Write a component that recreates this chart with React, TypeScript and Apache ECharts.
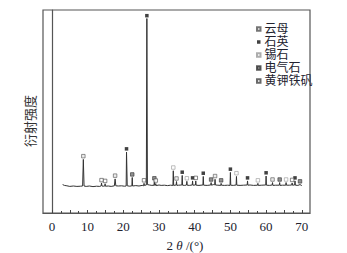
import React, { useEffect, useRef } from "react";
import * as echarts from "echarts";

// 2θ (°) vs diffraction intensity (arbitrary units, 0–1000)
const profile: [number, number][] = [
  [3.0, 140], [3.5, 136], [4.2, 134], [5.0, 131], [6.0, 133], [7.0, 131], [8.0, 132], [8.6, 133],
  [8.8, 264], [9.0, 133], [9.6, 131], [10.5, 133], [11.5, 130], [12.5, 132], [13.4, 131], [13.8, 134],
  [13.9, 148], [14.0, 133], [14.5, 132], [14.8, 133], [14.9, 144], [15.0, 132], [15.8, 133], [16.6, 131],
  [17.5, 134], [17.7, 168], [17.9, 134], [18.6, 133], [19.5, 134], [20.3, 132], [20.8, 133], [20.9, 300],
  [21.1, 134], [21.8, 132], [22.4, 134], [22.5, 175], [22.6, 133], [23.5, 135], [24.4, 133], [25.3, 136],
  [25.7, 134], [25.8, 146], [25.9, 136], [26.45, 138], [26.6, 958], [26.75, 140], [27.3, 138], [28.0, 136],
  [28.6, 137], [28.7, 156], [28.8, 136], [29.0, 137], [29.1, 145], [29.2, 135], [30.0, 138], [30.6, 136],
  [31.5, 137], [32.4, 135], [33.2, 137], [33.9, 136], [34.0, 208], [34.1, 136], [34.5, 137], [34.8, 138],
  [34.9, 155], [35.0, 136], [35.5, 137], [36.4, 138], [36.5, 185], [36.6, 137], [37.2, 136], [37.7, 138],
  [37.8, 156], [37.9, 137], [38.5, 136], [39.3, 138], [39.4, 158], [39.5, 137], [40.2, 138], [40.3, 158],
  [40.4, 137], [41.2, 136], [42.3, 138], [42.4, 180], [42.5, 137], [43.5, 136], [44.5, 138], [44.6, 150],
  [44.7, 137], [45.3, 140], [45.6, 139], [45.7, 166], [45.8, 138], [46.5, 137], [47.3, 136], [47.4, 146],
  [47.5, 137], [48.3, 136], [49.2, 137], [49.9, 136], [50.0, 200], [50.1, 137], [50.8, 136], [51.6, 138],
  [51.7, 180], [51.8, 137], [52.7, 136], [53.7, 137], [54.7, 138], [54.8, 158], [54.9, 137], [55.5, 138],
  [56.5, 136], [57.6, 137], [57.7, 146], [57.8, 136], [58.8, 137], [59.9, 138], [60.0, 182], [60.1, 137],
  [61.0, 136], [61.7, 138], [61.8, 150], [61.9, 136], [62.7, 137], [63.7, 137], [63.8, 150], [63.9, 136],
  [64.6, 137], [65.5, 137], [65.6, 150], [65.7, 137], [66.5, 137], [67.2, 138], [67.3, 148], [67.4, 137],
  [68.0, 138], [68.1, 158], [68.2, 137], [68.9, 136], [69.5, 140], [70.0, 135],
];

// phase markers: [2θ, marker height]
const mica: [number, number][] = [[8.8, 280], [17.7, 184], [34.9, 170], [45.7, 182], [61.8, 165]];
const quartz: [number, number][] = [
  [20.9, 316], [26.6, 972], [36.5, 201], [39.4, 173], [42.4, 196], [50.0, 216], [54.8, 173], [60.0, 198], [68.1, 173],
];
const cassiterite: [number, number][] = [[34.0, 224], [37.8, 171], [51.7, 196], [57.7, 161], [65.6, 165]];
const tourmaline: [number, number][] = [[22.5, 190], [28.7, 171], [44.6, 165], [47.4, 161], [63.8, 165], [69.5, 156]];
const jarosite: [number, number][] = [[13.9, 162], [14.9, 158], [25.8, 161], [29.1, 160], [40.3, 173], [67.3, 163]];

const xLabels = [0, 10, 20, 30, 40, 50, 60, 70];
const majorTicks = [0, 5, 10, 15, 20, 25, 30, 35, 40, 45, 50, 55, 60, 65, 70];
const minorTicks = [2.5, 7.5, 12.5, 17.5, 22.5, 27.5, 32.5, 37.5, 42.5, 47.5, 52.5, 57.5, 62.5, 67.5];

const FONT = "'Liberation Serif', 'Noto Sans CJK SC', serif";
const TEXT = "#22222e";

export default function App() {
  const ref = useRef<HTMLDivElement>(null);
  useEffect(() => {
    if (!ref.current) return;
    const chart = echarts.init(ref.current, null, { renderer: "svg" });
    const X_MIN = -2.5;
    const X_MAX = 72.3;
    const marker = (name: string, data: [number, number][], style: any) => ({
      name,
      type: "scatter",
      data,
      symbol: "rect",
      symbolSize: 3.5,
      itemStyle: style,
      z: 5,
    });
    chart.setOption({
      animation: false,
      backgroundColor: "#fff",
      textStyle: { fontFamily: FONT },
      grid: {
        left: 43,
        right: 37,
        top: 10,
        bottom: 40,
        show: true,
        borderColor: "#555",
        borderWidth: 1.2,
        containLabel: false,
      },
      legend: {
        orient: "vertical",
        left: 256,
        top: 23,
        padding: 0,
        itemGap: 1,
        itemWidth: 3.5,
        itemHeight: 3.5,
        icon: "rect",
        textStyle: { fontSize: 12, lineHeight: 12, color: TEXT, fontFamily: FONT, padding: [0, 0, 0, -1] },
        data: ["云母", "石英", "锡石", "电气石", "黄钾铁矾"],
      },
      xAxis: [
        {
          type: "value",
          min: X_MIN,
          max: X_MAX,
          position: "bottom",
          axisLine: { show: true, lineStyle: { color: "#555", width: 1.2 } },
          axisTick: { show: true, inside: true, length: 3, customValues: majorTicks, lineStyle: { color: "#444" } },
          axisLabel: { customValues: xLabels, fontSize: 13, color: TEXT, fontFamily: FONT, margin: 7 },
          splitLine: { show: false },
        },
        {
          type: "value",
          min: X_MIN,
          max: X_MAX,
          position: "bottom",
          axisLine: { show: false },
          axisTick: { show: true, inside: true, length: 2, customValues: minorTicks, lineStyle: { color: "#444" } },
          axisLabel: { show: false },
          splitLine: { show: false },
        },
      ],
      yAxis: {
        type: "value",
        min: 0,
        max: 1000,
        axisLine: { show: true, lineStyle: { color: "#555", width: 1.2 } },
        axisTick: { show: false },
        axisLabel: { show: false },
        splitLine: { show: false },
      },
      graphic: [
        {
          type: "text",
          x: 30,
          y: 121,
          rotation: Math.PI / 2,
          style: {
            text: "衍射强度",
            fontSize: 13,
            fontFamily: FONT,
            fill: "#333",
            align: "center",
            verticalAlign: "middle",
          },
        },
        {
          type: "text",
          x: 185,
          y: 245,
          style: {
            text: "{a|2 }{b|θ}{a| /(°)}",
            fontSize: 13,
            fontFamily: FONT,
            fill: TEXT,
            align: "center",
            verticalAlign: "middle",
            rich: {
              a: { fontSize: 13, fontFamily: FONT, fill: TEXT },
              b: { fontSize: 13, fontFamily: FONT, fontStyle: "italic", fill: TEXT },
            },
          },
        },
      ],
      series: [
        {
          name: "XRD",
          type: "line",
          data: profile,
          showSymbol: false,
          symbol: "none",
          lineStyle: { color: "#333", width: 1 },
          z: 3,
        },
        marker("云母", mica, { color: "#e8e8e8", borderColor: "#555", borderWidth: 0.8 }),
        marker("石英", quartz, { color: "#111" }),
        marker("锡石", cassiterite, { color: "#fff", borderColor: "#999", borderWidth: 0.8 }),
        marker("电气石", tourmaline, { color: "#777", borderColor: "#333", borderWidth: 0.8 }),
        marker("黄钾铁矾", jarosite, { color: "#fff", borderColor: "#444", borderWidth: 0.8 }),
      ],
    });
    return () => chart.dispose();
  }, []);
  return (
    <div
      ref={ref}
      style={{ position: "fixed", left: 0, top: 0, width: 347, height: 253, background: "#fff" }}
    />
  );
}
